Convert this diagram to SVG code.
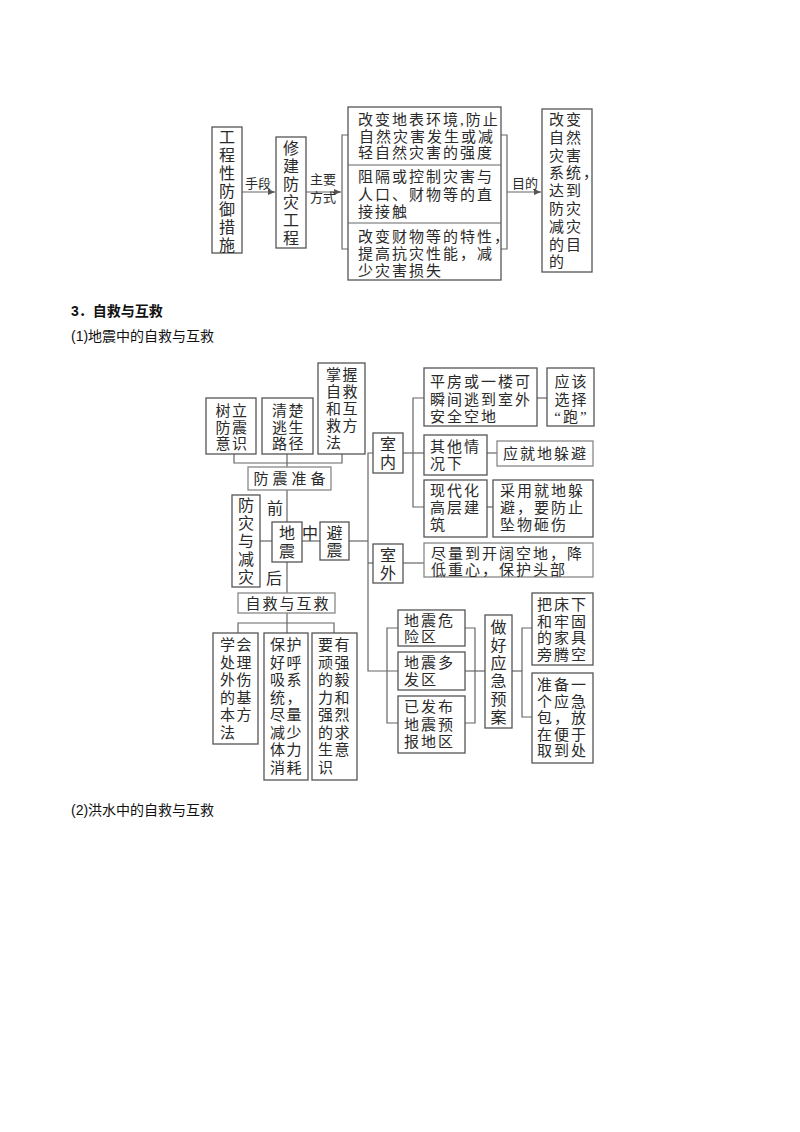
<svg xmlns="http://www.w3.org/2000/svg" width="800" height="1132" viewBox="0 0 800 1132">
<style>
text{font-family:"Liberation Serif","Noto Sans CJK SC",serif;fill:#2a2a2a;dominant-baseline:central}
.m{font-size:15px;letter-spacing:2px}
.s{font-size:15px;letter-spacing:1.5px}
.v{font-size:16px;text-anchor:middle}
.t13{font-size:13px;text-anchor:middle}
.c{text-anchor:middle}
.box{fill:#fff;stroke:#555;stroke-width:1.3}
.lbox{fill:#fff;stroke:#888;stroke-width:1.3}
.ln{fill:none;stroke:#666;stroke-width:1.2}
.head{font-family:"Liberation Sans","Noto Sans CJK SC",sans-serif;font-size:14px;fill:#111;dominant-baseline:auto}
</style>
<defs>
<marker id="arr" markerWidth="8" markerHeight="8" refX="7" refY="4" orient="auto" markerUnits="userSpaceOnUse">
<path d="M0,1 L7,4 L0,7 Z" fill="#555"/>
</marker>
</defs>
<rect width="800" height="1132" fill="#fff"/>

<!-- ===== Top diagram ===== -->
<g id="connectors-top">
<line class="ln" x1="242" y1="192" x2="275" y2="192" marker-end="url(#arr)"/>
<line class="ln" x1="306" y1="192" x2="341" y2="192" marker-end="url(#arr)"/>
<path class="ln" d="M348,135 H342 V249 H348"/>
<path class="ln" d="M501,135 H507 V249 H501"/>
<line class="ln" x1="507" y1="192" x2="541" y2="192" marker-end="url(#arr)"/>
<text class="t13" x="258" y="183">手段</text>
<text class="t13" x="323" y="179">主要</text>
<text class="t13" x="323" y="197">方式</text>
<text class="t13" x="525" y="183">目的</text>
</g>

<g id="n-gongcheng">
<rect class="box" x="212" y="127" width="30" height="126"/>
<text class="v" x="227" y="137">工</text>
<text class="v" x="227" y="155">程</text>
<text class="v" x="227" y="173">性</text>
<text class="v" x="227" y="191">防</text>
<text class="v" x="227" y="209">御</text>
<text class="v" x="227" y="227">措</text>
<text class="v" x="227" y="245">施</text>
</g>

<g id="n-xiujian">
<rect class="box" x="276" y="137" width="30" height="111"/>
<text class="v" x="291" y="148">修</text>
<text class="v" x="291" y="166">建</text>
<text class="v" x="291" y="184">防</text>
<text class="v" x="291" y="202">灾</text>
<text class="v" x="291" y="220">工</text>
<text class="v" x="291" y="238">程</text>
</g>

<g id="n-fangshi">
<rect class="box" x="348" y="107" width="153" height="173"/>
<line class="ln" x1="348" y1="165" x2="501" y2="165" stroke="#555"/>
<line class="ln" x1="348" y1="223" x2="501" y2="223" stroke="#555"/>
<text class="m" x="358" y="120" letter-spacing="1.6">改变地表环境,防止</text>
<text class="m" x="359" y="136.5">自然灾害发生或减</text>
<text class="m" x="358" y="153">轻自然灾害的强度</text>
<text class="m" x="358" y="177">阻隔或控制灾害与</text>
<text class="m" x="358" y="194.5">人口、财物等的直</text>
<text class="m" x="358" y="212">接接触</text>
<text class="m" x="358" y="237">改变财物等的特性，</text>
<text class="m" x="358" y="254">提高抗灾性能，减</text>
<text class="m" x="358" y="271">少灾害损失</text>
</g>

<g id="n-mudi">
<rect class="box" x="542" y="109" width="50" height="163"/>
<text class="m" x="549" y="120">改变</text>
<text class="m" x="549" y="138">自然</text>
<text class="m" x="549" y="155.5">灾害</text>
<text class="m" x="549" y="173">系统，</text>
<text class="m" x="549" y="191">达到</text>
<text class="m" x="549" y="209">防灾</text>
<text class="m" x="549" y="227">减灾</text>
<text class="m" x="549" y="245">的目</text>
<text class="m" x="549" y="262">的</text>
</g>

<!-- ===== Headings ===== -->
<g id="headings">
<text class="head" x="71" y="316" font-weight="bold">3．自救与互救</text>
<text class="head" x="71" y="341">(1)地震中的自救与互救</text>
<text class="head" x="71" y="815">(2)洪水中的自救与互救</text>
</g>

<!-- ===== Earthquake diagram ===== -->
<g id="connectors-eq">
<path class="ln" d="M234,454 V463 H342 V454"/>
<path class="ln" d="M287,454 V467"/>
<path class="ln" d="M287,490 V522"/>
<path class="ln" d="M260,541 H272"/>
<path class="ln" d="M302,541 H320"/>
<path class="ln" d="M349,541 H368"/>
<path class="ln" d="M287,562 V593"/>
<path class="ln" d="M287,613 V633"/>
<path class="ln" d="M238,633 V623 H334 V633"/>
<path class="ln" d="M373,453 H368 V671 H398"/>
<path class="ln" d="M368,563 H373"/>
<path class="ln" d="M403,453 H424"/>
<path class="ln" d="M424,398 H413 V507 H424"/>
<path class="ln" d="M537,398 H547"/>
<path class="ln" d="M487,453 H497"/>
<path class="ln" d="M487,507 H493"/>
<path class="ln" d="M403,563 H424"/>
<path class="ln" d="M398,628 H387 V723 H398"/>
<path class="ln" d="M465,628 H475 V723 H465"/>
<path class="ln" d="M465,671 H485"/>
<path class="ln" d="M512,671 H522"/>
<path class="ln" d="M532,628 H522 V717 H532"/>
<text class="v" x="275" y="508">前</text>
<text class="v" x="310" y="533">中</text>
<text class="v" x="274" y="578">后</text>
</g>

<g id="n-shuli">
<rect class="box" x="206" y="398" width="50" height="56"/>
<text class="s c" x="232" y="411">树立</text>
<text class="s c" x="232" y="427.5">防震</text>
<text class="s c" x="232" y="444">意识</text>
</g>
<g id="n-qingchu">
<rect class="box" x="262" y="398" width="51" height="56"/>
<text class="s c" x="288.5" y="411">清楚</text>
<text class="s c" x="288.5" y="427.5">逃生</text>
<text class="s c" x="288.5" y="444">路径</text>
</g>
<g id="n-zhangwo">
<rect class="box" x="318" y="363" width="47" height="91"/>
<text class="s" x="326" y="375">掌握</text>
<text class="s" x="326" y="392">自救</text>
<text class="s" x="326" y="409">和互</text>
<text class="s" x="326" y="426">救方</text>
<text class="s" x="326" y="443">法</text>
</g>
<g id="n-fangzhen">
<rect class="lbox" x="248" y="467" width="83" height="23"/>
<text class="c" x="291.5" y="478.5" font-size="15" letter-spacing="4">防震准备</text>
</g>
<g id="n-fangzai">
<rect class="box" x="232" y="495" width="28" height="92"/>
<text class="v" x="246" y="505">防</text>
<text class="v" x="246" y="523">灾</text>
<text class="v" x="246" y="541">与</text>
<text class="v" x="246" y="559">减</text>
<text class="v" x="246" y="577">灾</text>
</g>
<g id="n-dizhen">
<rect class="box" x="272" y="522" width="30" height="40"/>
<text class="v" x="287" y="533">地</text>
<text class="v" x="287" y="551">震</text>
</g>
<g id="n-bizhen">
<rect class="box" x="320" y="522" width="29" height="38"/>
<text class="v" x="334.5" y="533">避</text>
<text class="v" x="334.5" y="550">震</text>
</g>
<g id="n-zijiu">
<rect class="lbox" x="238" y="593" width="97" height="20"/>
<text class="c" x="288" y="603.5" font-size="15" letter-spacing="2">自救与互救</text>
</g>
<g id="n-xuehui">
<rect class="box" x="213" y="633" width="45" height="111"/>
<text class="s" x="220" y="645">学会</text>
<text class="s" x="220" y="662.5">处理</text>
<text class="s" x="220" y="680">外伤</text>
<text class="s" x="220" y="697.5">的基</text>
<text class="s" x="220" y="715">本方</text>
<text class="s" x="220" y="732.5">法</text>
</g>
<g id="n-baohu">
<rect class="box" x="264" y="633" width="44" height="147"/>
<text class="s" x="270" y="645">保护</text>
<text class="s" x="270" y="662.5">好呼</text>
<text class="s" x="270" y="680">吸系</text>
<text class="s" x="270" y="697.5">统，</text>
<text class="s" x="270" y="715">尽量</text>
<text class="s" x="270" y="732.5">减少</text>
<text class="s" x="270" y="750">体力</text>
<text class="s" x="270" y="767.5">消耗</text>
</g>
<g id="n-yaoyou">
<rect class="box" x="312" y="633" width="45" height="147"/>
<text class="s" x="318" y="645">要有</text>
<text class="s" x="318" y="662.5">顽强</text>
<text class="s" x="318" y="680">的毅</text>
<text class="s" x="318" y="697.5">力和</text>
<text class="s" x="318" y="715">强烈</text>
<text class="s" x="318" y="732.5">的求</text>
<text class="s" x="318" y="750">生意</text>
<text class="s" x="318" y="767.5">识</text>
</g>
<g id="n-shinei">
<rect class="box" x="373" y="433" width="30" height="40"/>
<text class="v" x="388" y="444">室</text>
<text class="v" x="388" y="462">内</text>
</g>
<g id="n-shiwai">
<rect class="box" x="373" y="544" width="30" height="39"/>
<text class="v" x="388" y="555">室</text>
<text class="v" x="388" y="573">外</text>
</g>
<g id="n-pingfang">
<rect class="box" x="424" y="368" width="113" height="58"/>
<text class="m" x="430" y="382">平房或一楼可</text>
<text class="m" x="430" y="399.5">瞬间逃到室外</text>
<text class="m" x="430" y="417">安全空地</text>
</g>
<g id="n-pao">
<rect class="box" x="547" y="368" width="47" height="58"/>
<text class="m c" x="571.5" y="382">应该</text>
<text class="m c" x="571.5" y="399.5">选择</text>
<text class="m c" x="571.5" y="417">“跑”</text>
</g>
<g id="n-qita">
<rect class="box" x="424" y="435" width="63" height="40"/>
<text class="m" x="430" y="447">其他情</text>
<text class="m" x="430" y="464">况下</text>
</g>
<g id="n-jiudi">
<rect class="lbox" x="497" y="441" width="96" height="25"/>
<text class="m" x="503" y="453.5">应就地躲避</text>
</g>
<g id="n-xiandai">
<rect class="box" x="424" y="480" width="63" height="57"/>
<text class="m" x="430" y="490.5">现代化</text>
<text class="m" x="430" y="507.5">高层建</text>
<text class="m" x="430" y="524.5">筑</text>
</g>
<g id="n-caiyong">
<rect class="box" x="493" y="480" width="100" height="57"/>
<text class="m" x="500" y="490.5">采用就地躲</text>
<text class="m" x="500" y="507.5">避，要防止</text>
<text class="m" x="500" y="524.5">坠物砸伤</text>
</g>
<g id="n-jinliang">
<rect class="lbox" x="424" y="543" width="169" height="34"/>
<text class="m" x="431" y="553.5">尽量到开阔空地，降</text>
<text class="m" x="431" y="569.5">低重心，保护头部</text>
</g>
<g id="n-weixian">
<rect class="box" x="398" y="610" width="67" height="36"/>
<text class="m" x="404" y="620.5">地震危</text>
<text class="m" x="404" y="637">险区</text>
</g>
<g id="n-duofa">
<rect class="box" x="398" y="652" width="67" height="38"/>
<text class="m" x="404" y="663">地震多</text>
<text class="m" x="404" y="680">发区</text>
</g>
<g id="n-yubao">
<rect class="box" x="398" y="696" width="67" height="57"/>
<text class="m" x="404" y="707">已发布</text>
<text class="m" x="404" y="724.5">地震预</text>
<text class="m" x="404" y="742">报地区</text>
</g>
<g id="n-yuan">
<rect class="box" x="485" y="615" width="27" height="113"/>
<text class="v" x="498.5" y="627">做</text>
<text class="v" x="498.5" y="645">好</text>
<text class="v" x="498.5" y="663">应</text>
<text class="v" x="498.5" y="681">急</text>
<text class="v" x="498.5" y="699">预</text>
<text class="v" x="498.5" y="717">案</text>
</g>
<g id="n-chuangxia">
<rect class="box" x="532" y="593" width="61" height="72"/>
<text class="m" x="537" y="605">把床下</text>
<text class="m" x="537" y="621.5">和牢固</text>
<text class="m" x="537" y="638">的家具</text>
<text class="m" x="537" y="654.5">旁腾空</text>
</g>
<g id="n-yingjibao">
<rect class="box" x="532" y="673" width="61" height="90"/>
<text class="m" x="537" y="685">准备一</text>
<text class="m" x="537" y="701.5">个应急</text>
<text class="m" x="537" y="718">包，放</text>
<text class="m" x="537" y="734.5">在便于</text>
<text class="m" x="537" y="751">取到处</text>
</g>
</svg>
